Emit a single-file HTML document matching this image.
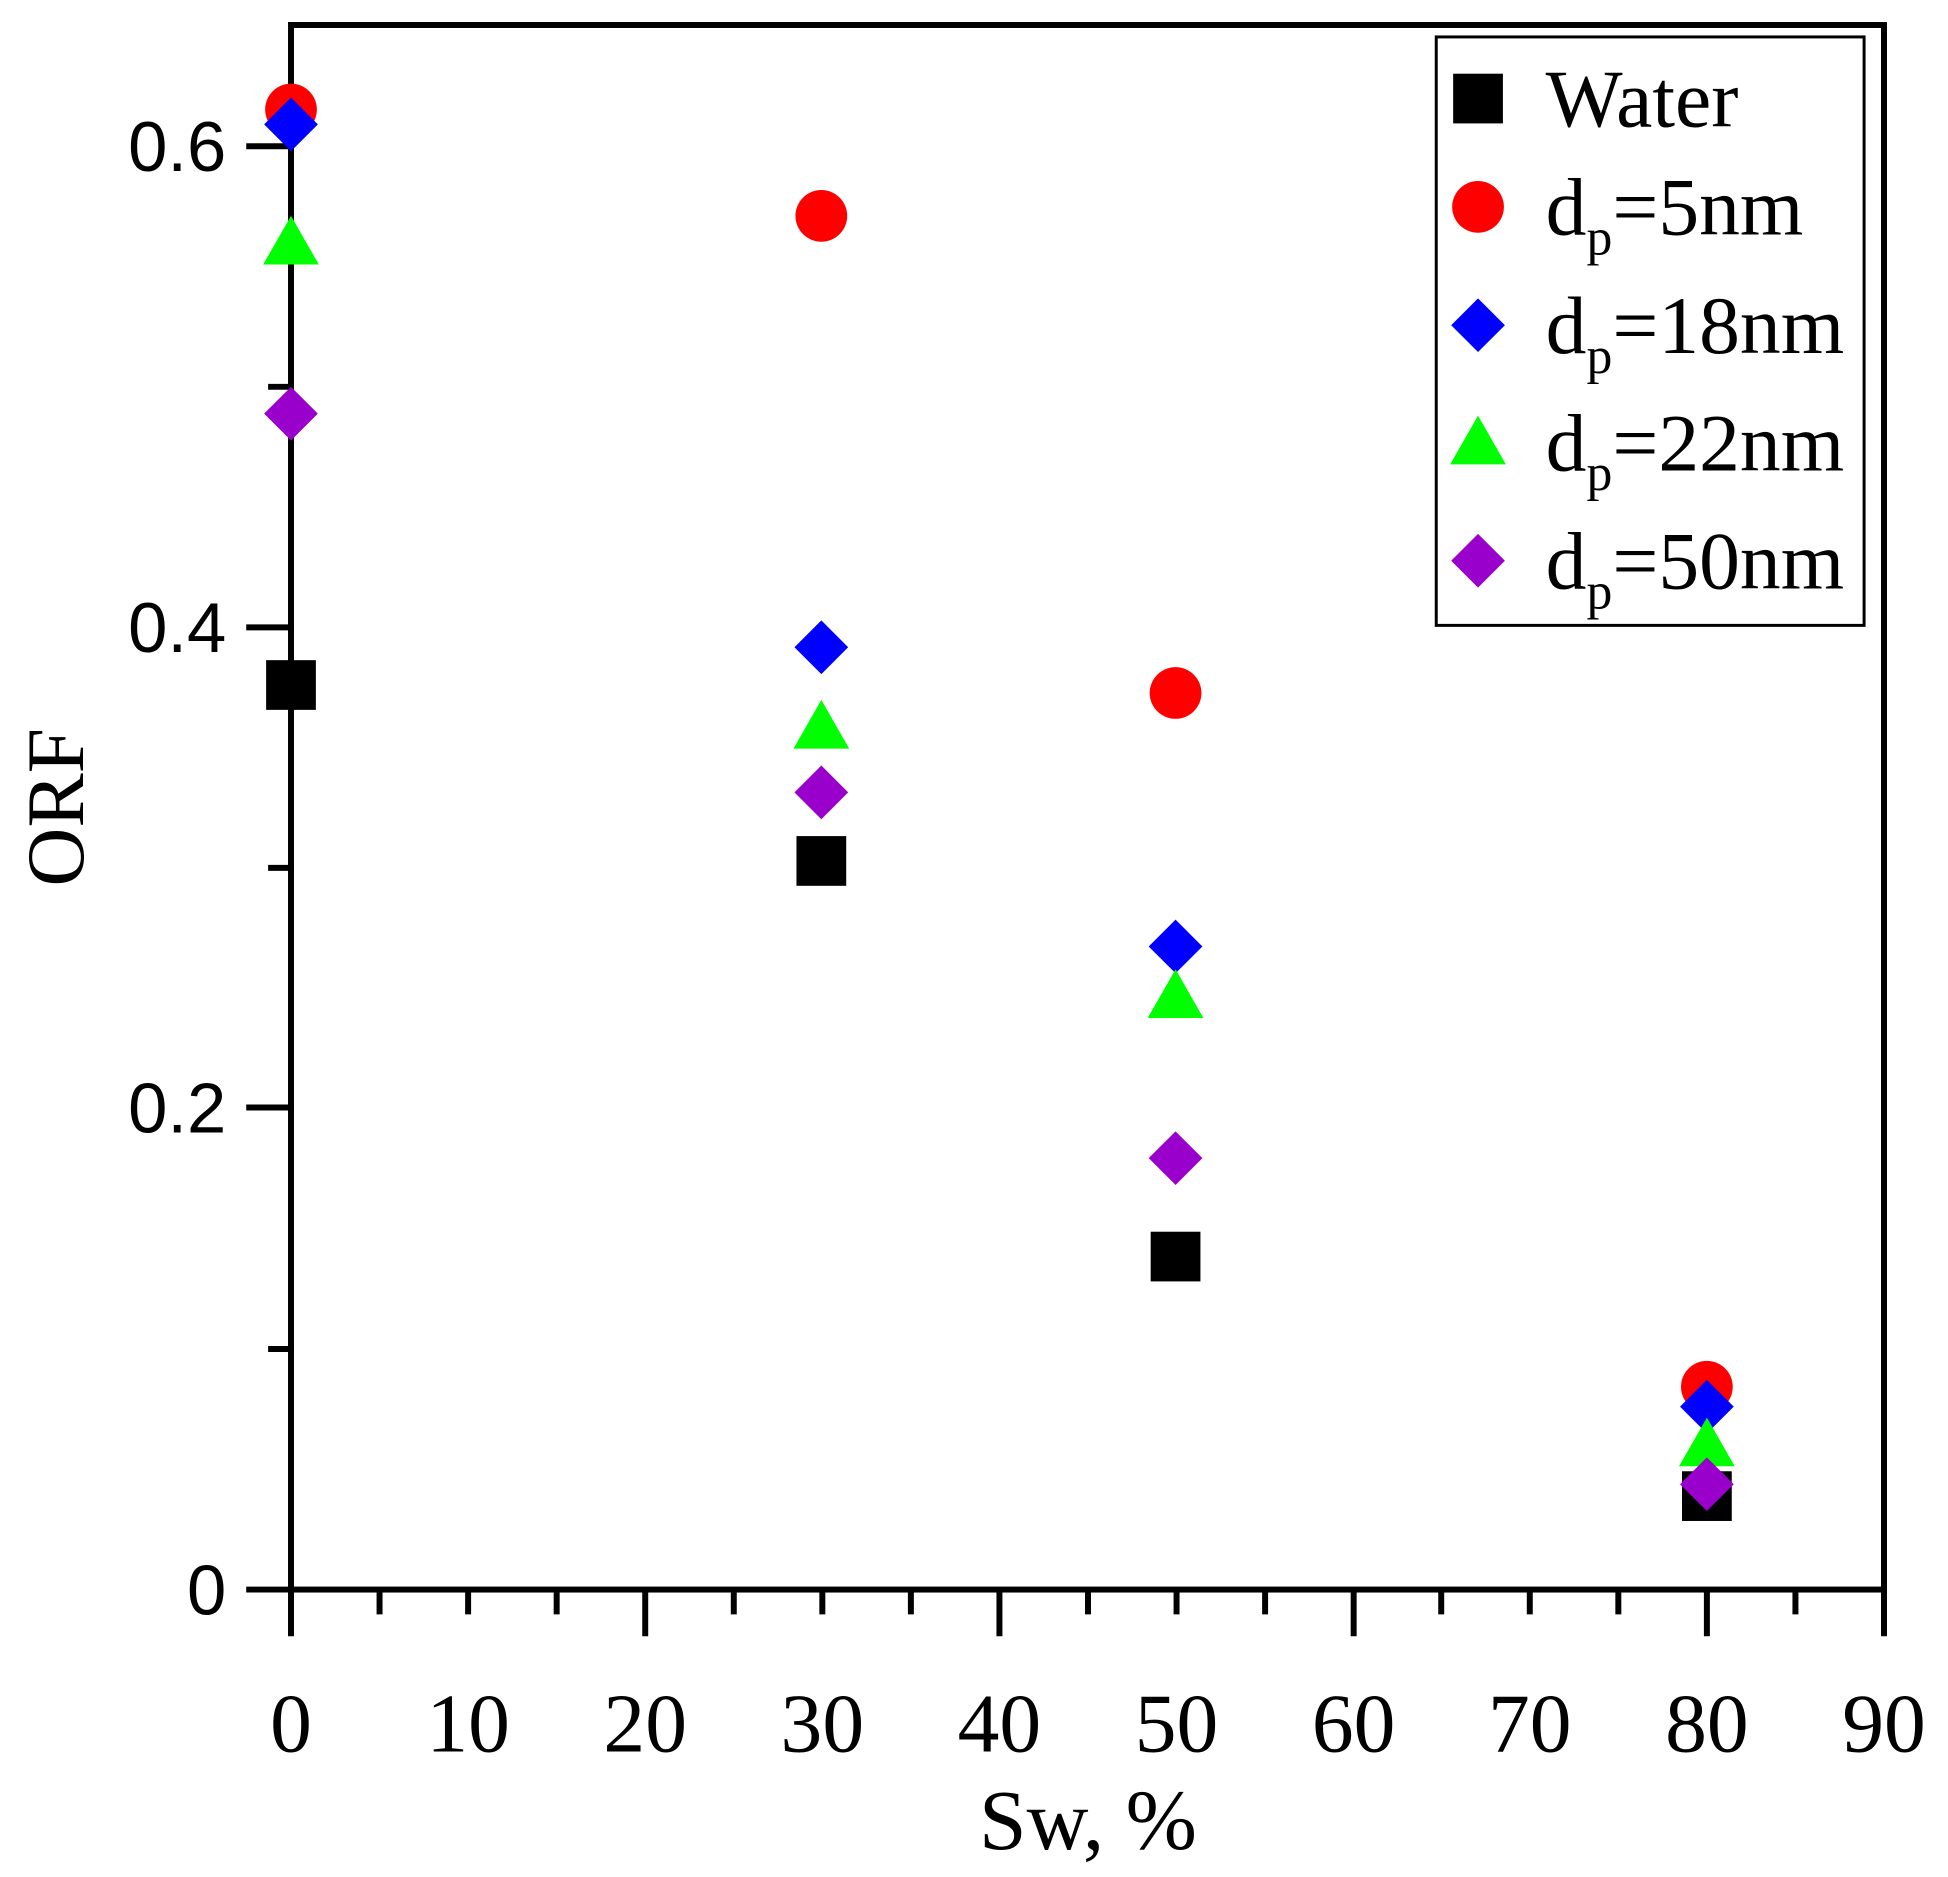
<!DOCTYPE html><html><head><style>body{margin:0;background:#fff}</style></head><body>
<svg width="1948" height="1872" xmlns="http://www.w3.org/2000/svg">
<defs>
<g id="sq"><rect x="-25" y="-25" width="50" height="50" fill="#000"/></g>
<g id="ci"><circle r="26" fill="#f00"/></g>
<g id="db"><polygon points="0,-27 27,0 0,27 -27,0" fill="#00f"/></g>
<g id="tg"><polygon points="0,-27 28,22 -28,22" fill="#0f0"/></g>
<g id="dp"><polygon points="0,-27 27,0 0,27 -27,0" fill="#90c"/></g>
</defs>
<g transform="translate(291,25) scale(0.995,0.994) translate(-291,-25)">
<g stroke="#000" stroke-width="6" fill="none">
<rect x="291" y="25" width="1601" height="1574"/>
<path d="M246,1599H291M246,1114H291M246,631H291M246,147H291M268,1357H291M268,873H291M268,389H291"/>
<path d="M291,1599V1646M469,1599V1624M647,1599V1646M825,1599V1624M1003,1599V1646M1181,1599V1624M1359,1599V1646M1536,1599V1624M1714,1599V1646M1892,1599V1646"/>
<path d="M380,1599V1624M558,1599V1624M736,1599V1624M914,1599V1624M1092,1599V1624M1270,1599V1624M1447,1599V1624M1625,1599V1624M1803,1599V1624"/>
</g>
<g font-family="Liberation Sans, sans-serif" font-size="71" text-anchor="end">
<text x="226" y="1624">0</text><text x="226" y="1139">0.2</text><text x="226" y="656">0.4</text><text x="226" y="172">0.6</text>
</g>
<g font-family="Liberation Serif, serif" font-size="84" text-anchor="middle">
<text x="291" y="1762">0</text><text x="469" y="1762">10</text><text x="647" y="1762">20</text><text x="825" y="1762">30</text><text x="1003" y="1762">40</text><text x="1181" y="1762">50</text><text x="1359" y="1762">60</text><text x="1536" y="1762">70</text><text x="1714" y="1762">80</text><text x="1892" y="1762">90</text>
<text x="1092" y="1860" font-size="86">Sw, %</text>
<text transform="translate(82,812) rotate(-90)" font-size="82">ORF</text>
</g>
<use href="#sq" x="291" y="689"/><use href="#ci" x="291" y="110"/><use href="#db" x="291" y="125"/><use href="#tg" x="291" y="244"/><use href="#dp" x="291" y="416"/>
<use href="#sq" x="824" y="866"/><use href="#ci" x="824" y="217"/><use href="#db" x="824" y="651"/><use href="#tg" x="824" y="731"/><use href="#dp" x="824" y="797"/>
<use href="#sq" x="1180" y="1264"/><use href="#ci" x="1180" y="697"/><use href="#db" x="1180" y="952"/><use href="#tg" x="1180" y="1002"/><use href="#dp" x="1180" y="1165"/>
<use href="#sq" x="1714" y="1505"/><use href="#ci" x="1714" y="1395"/><use href="#db" x="1714" y="1415"/><use href="#tg" x="1714" y="1453"/><use href="#dp" x="1714" y="1493"/>
<rect x="1442" y="37" width="430" height="592" fill="#fff" stroke="#000" stroke-width="3"/>
<use href="#sq" x="1484" y="99"/><use href="#ci" x="1484" y="208"/><use href="#db" x="1484" y="327"/><use href="#tg" x="1484" y="445"/><use href="#dp" x="1484" y="564"/>
<g font-family="Liberation Serif, serif" font-size="82">
<text x="1552" y="127">Water</text>
<text x="1552" y="236">d<tspan font-size="52" dy="20">p</tspan><tspan dy="-20">=5nm</tspan></text>
<text x="1552" y="355">d<tspan font-size="52" dy="20">p</tspan><tspan dy="-20">=18nm</tspan></text>
<text x="1552" y="473">d<tspan font-size="52" dy="20">p</tspan><tspan dy="-20">=22nm</tspan></text>
<text x="1552" y="592">d<tspan font-size="52" dy="20">p</tspan><tspan dy="-20">=50nm</tspan></text>
</g>
</g>
</svg></body></html>
